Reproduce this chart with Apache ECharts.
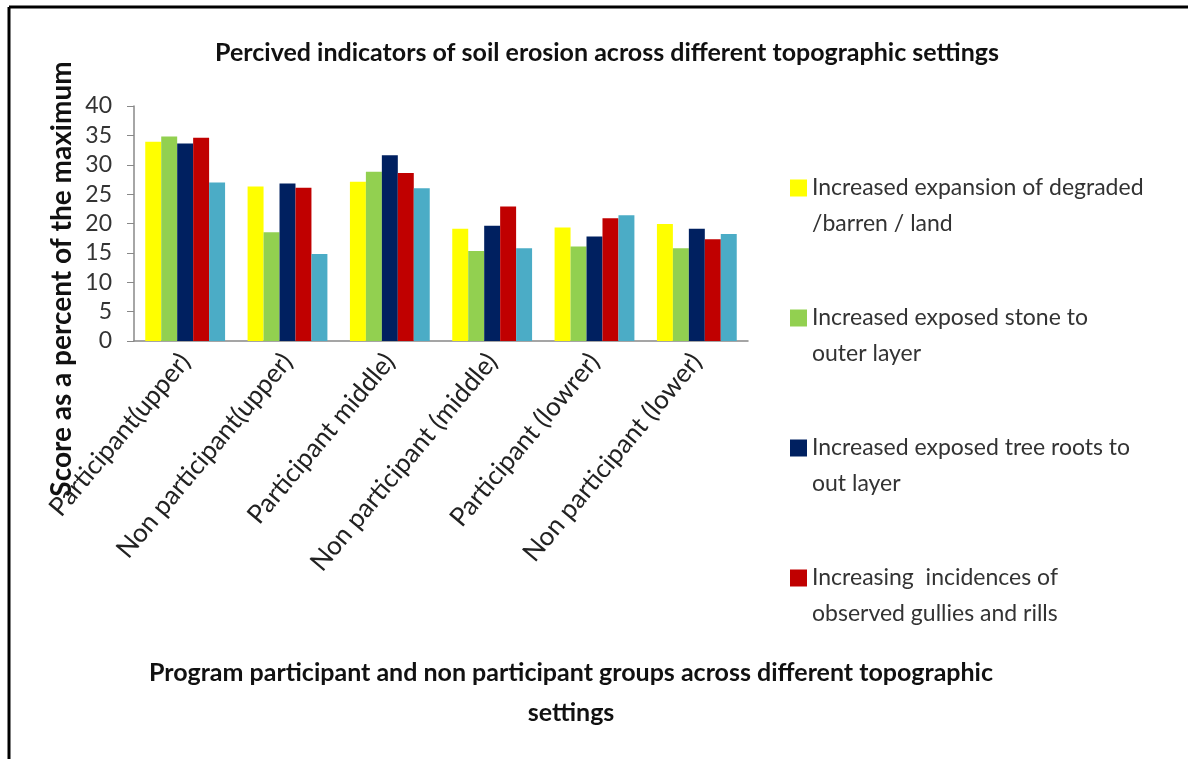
<!DOCTYPE html>
<html>
<head>
<meta charset="utf-8">
<script src="https://cdn.jsdelivr.net/npm/echarts@6/dist/echarts.min.js"></script>
<style>
html,body{margin:0;padding:0;background:#fff;}
#chart{width:1188px;height:759px;}
</style>
</head>
<body>
<div id="chart"></div>
<script>
var categories = ["Participant(upper)", "Non participant(upper)", "Participant middle)", "Non participant (middle)", "Participant (lowrer)", "Non participant (lower)"];
var seriesNames = [
  "Increased expansion of degraded\n/barren / land",
  "Increased exposed stone to\nouter layer",
  "Increased exposed tree roots to\nout layer",
  "Increasing  incidences of\nobserved gullies and rills",
  "Series 5"
];
var degradedLand = [33.9, 26.3, 27.1, 19.1, 19.3, 19.9];
var exposedStone = [34.8, 18.5, 28.8, 15.3, 16.1, 15.8];
var exposedRoots = [33.6, 26.8, 31.6, 19.6, 17.8, 19.1];
var gullies = [34.6, 26.1, 28.6, 22.9, 20.9, 17.3];
var series5 = [27.0, 14.8, 26.0, 15.8, 21.4, 18.2];
var colors = ["#FFFF00", "#92D050", "#002060", "#C00000", "#4BACC6"];
var yTicks = [0, 5, 10, 15, 20, 25, 30, 35, 40];
var yAxisTitle = 'Score as a percent of the maximum';
var xAxisTitle = 'Program participant and non participant groups across different topographic\nsettings';
var chartTitle = 'Percived indicators of soil erosion across different topographic settings';

var allValues = [degradedLand, exposedStone, exposedRoots, gullies, series5];
var chart = echarts.init(document.getElementById('chart'));
var font = 'Lato';
var option = {
  backgroundColor: '#fff',
  animation: false,
  color: colors,
  title: [
    {
      text: chartTitle,
      left: 602, top: 35, textAlign: 'center',
      textStyle: {fontFamily: font, fontWeight: 'bold', fontSize: 25, color: '#111'}
    },
    {
      text: xAxisTitle,
      left: 566, top: 648, textAlign: 'center',
      textStyle: {fontFamily: font, fontWeight: 'bold', fontSize: 25, lineHeight: 40, color: '#111'}
    }
  ],
  legend: {
    orient: 'vertical',
    left: 785,
    top: 129,
    itemWidth: 17,
    itemHeight: 17,
    itemGap: 22,
    icon: 'rect',
    data: seriesNames.slice(0, 4),
    formatter: function (name) { return '\n' + name; },
    textStyle: {fontFamily: font, fontSize: 23, lineHeight: 36, color: '#333'}
  },
  grid: {left: 134, right: 440, top: 106, bottom: 418, containLabel: false},
  xAxis: {
    type: 'category',
    data: categories,
    axisLine: {lineStyle: {color: '#888', width: 1.5}},
    axisTick: {show: false},
    axisLabel: {
      rotate: 50, interval: 0, margin: 16,
      fontFamily: font, fontSize: 26, color: '#222'
    }
  },
  yAxis: {
    type: 'value',
    min: yTicks[0], max: yTicks[yTicks.length - 1], interval: 5,
    splitLine: {show: false},
    axisLine: {show: true, lineStyle: {color: '#888', width: 1.5}},
    axisTick: {show: true, length: 7, lineStyle: {color: '#888'}},
    axisLabel: {fontFamily: font, fontSize: 23, color: '#333', margin: 22}
  },
  series: allValues.map(function (vals, i) {
    return {
      name: seriesNames[i],
      type: 'bar',
      data: vals,
      barGap: '0%',
      barCategoryGap: '22%',
      itemStyle: {color: colors[i]}
    };
  }),
  graphic: [
    {type: 'line', shape: {x1: 9, y1: 7, x2: 1188, y2: 7}, style: {stroke: '#000', lineWidth: 3}},
    {type: 'line', shape: {x1: 9, y1: 7, x2: 9, y2: 759}, style: {stroke: '#000', lineWidth: 3}},
    {
      type: 'text', x: 62, y: 279, rotation: Math.PI / 2,
      style: {text: yAxisTitle, fontFamily: font, fontWeight: 'bold', fontSize: 28, fill: '#111',
        align: 'center', verticalAlign: 'middle'}
    }
  ]
};
chart.setOption(option);
</script>
</body>
</html>
